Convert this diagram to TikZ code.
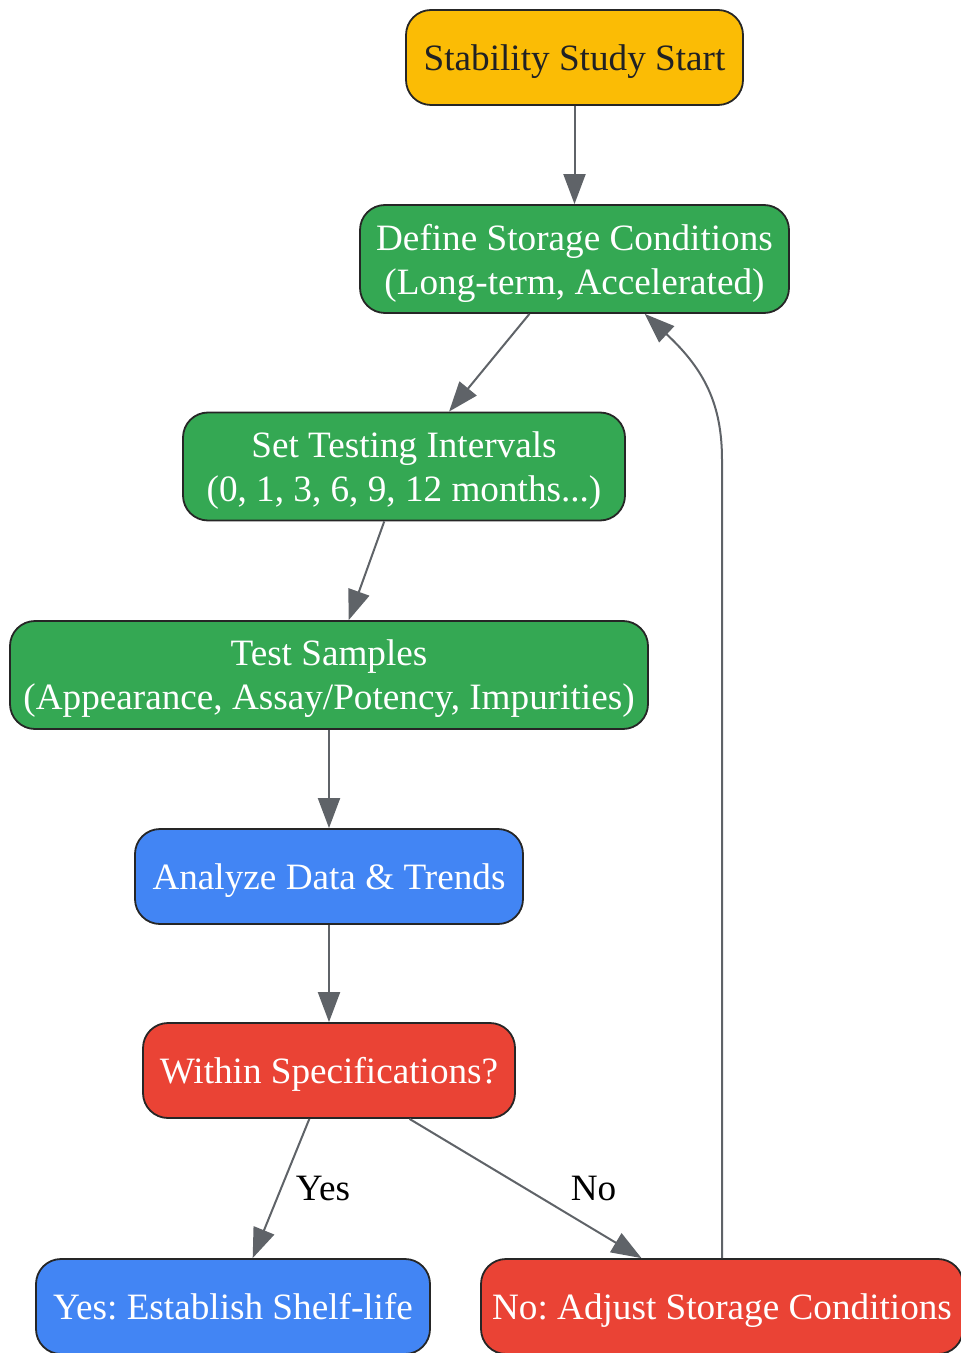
\documentclass[tikz,border=0pt]{standalone}
\usepackage{fontspec}
\setmainfont{Liberation Serif}
\usetikzlibrary{arrows.meta}
\definecolor{gyellow}{HTML}{FBBC05}
\definecolor{ggreen}{HTML}{34A853}
\definecolor{gblue}{HTML}{4285F4}
\definecolor{gred}{HTML}{EA4335}
\definecolor{ggray}{HTML}{5F6368}
\definecolor{gtext}{HTML}{202124}
\frenchspacing

\begin{document}
\begin{tikzpicture}[x=0.5pt, y=-0.5pt,
	box/.style={rectangle, rounded corners=12.5pt, draw=black!85, line width=0.9pt, align=center, inner sep=0pt, text depth=0pt, font=\fontsize{18.6}{22}\selectfont},
	edge/.style={draw=ggray, line width=1pt, -{Triangle[length=15pt, width=11pt]}},
	lbl/.style={font=\fontsize{18.6}{22}\selectfont, text=black}]
	\useasboundingbox (0,0) rectangle (961,1353);
	\node (n01) at (574.5,57.5)[box, fill=gyellow, text=gtext, minimum width=168.5pt, minimum height=47.5pt]{Stability Study Start};
	\node (n02) at (574.5,259)[box, fill=ggreen, text=white, minimum width=214.5pt, minimum height=54pt]{Define Storage Conditions\\(Long-term, Accelerated)};
	\node (n03) at (404,466.5)[box, fill=ggreen, text=white, minimum width=221pt, minimum height=54pt]{Set Testing Intervals\\(0, 1, 3, 6, 9, 12 months...)};
	\node (n04) at (329,675)[box, fill=ggreen, text=white, minimum width=319pt, minimum height=54pt]{Test Samples\\(Appearance, Assay/Potency, Impurities)};
	\node (n05) at (329,876.5)[box, fill=gblue, text=white, minimum width=194pt, minimum height=47.5pt]{Analyze Data \& Trends};
	\node (n06) at (329,1070.5)[box, fill=gred, text=white, minimum width=186pt, minimum height=47.5pt]{Within Specifications?};
	\node (n07) at (233,1306.5)[box, fill=gblue, text=white, minimum width=197pt, minimum height=47.5pt]{Yes: Establish Shelf-life};
	\node (n08) at (722,1306.5)[box, fill=gred, text=white, minimum width=241pt, minimum height=47.5pt]{No: Adjust Storage Conditions};
	\coordinate (c01) at (722,460);
	\draw[edge] (n01) -- (n02);
	\draw[edge] (n02) -- (n03);
	\draw[edge] (n03) -- (n04);
	\draw[edge] (n04) -- (n05);
	\draw[edge] (n05) -- (n06);
	\draw[edge] (n06) -- node[lbl, midway, xshift=21pt]{Yes} (n07);
	\draw[edge] (n06) -- node[lbl, midway, xshift=34pt]{No} (n08);
	\draw[edge] (n08) -- (c01) .. controls (722,405) and (705,370) .. (n02.-38);
\end{tikzpicture}
\end{document}
